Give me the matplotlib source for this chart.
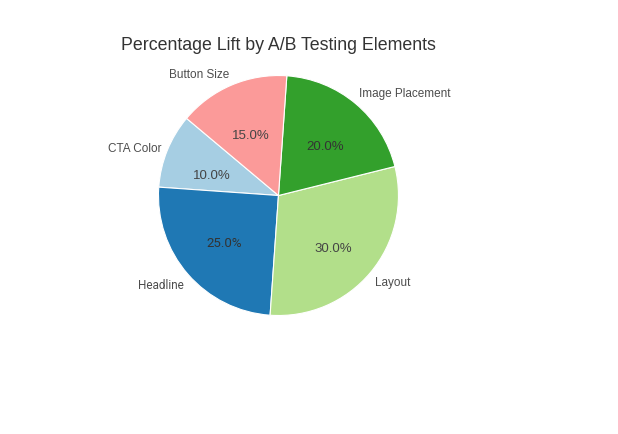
import matplotlib
matplotlib.use('Agg')
import matplotlib.pyplot as plt

# Slices in drawing order (counterclockwise from start angle)
elements = ['CTA Color', 'Headline', 'Layout', 'Image Placement', 'Button Size']
lift_pct = [10, 25, 30, 20, 15]
colors = ['#a6cee3', '#1f78b4', '#b2df8a', '#33a02c', '#fb9a99']

plt.rcParams['font.family'] = ['Liberation Sans', 'DejaVu Sans']

fig = plt.figure(figsize=(6.18, 4.35), dpi=100)
ax = fig.add_axes([0.2079, 0.2034, 0.4854, 0.6897])

wedges, texts, autotexts = ax.pie(
    lift_pct, labels=elements, colors=colors, autopct='%1.1f%%',
    startangle=140, counterclock=True, labeldistance=1.05,
    wedgeprops={'edgecolor': 'white', 'linewidth': 0.8},
    textprops={'fontsize': 8.5, 'color': '#4d4d4d'},
)
for t in autotexts:
    t.set_fontsize(9.5)
    t.set_va('top')
    t.set_color('#444444')
# labels well above / below the centre sit away from their anchor
for t in texts:
    y = t.get_position()[1]
    if y < -0.5:
        t.set_va('top')
    elif y > 0.5:
        t.set_va('bottom')
# the Headline slice text is drawn in a narrower face in the reference
for t in (texts[1], autotexts[1]):
    t.set_fontfamily('Roboto')
autotexts[1].set_va('center')
autotexts[1].set_color('#333333')
autotexts[3].set_color('#333333')

ax.set_aspect('equal')
fig.text(0.45, 0.895, 'Percentage Lift by A/B Testing Elements',
         ha='center', va='center', fontsize=12.8, color='#333333')

fig.savefig('out.png', dpi=100)
